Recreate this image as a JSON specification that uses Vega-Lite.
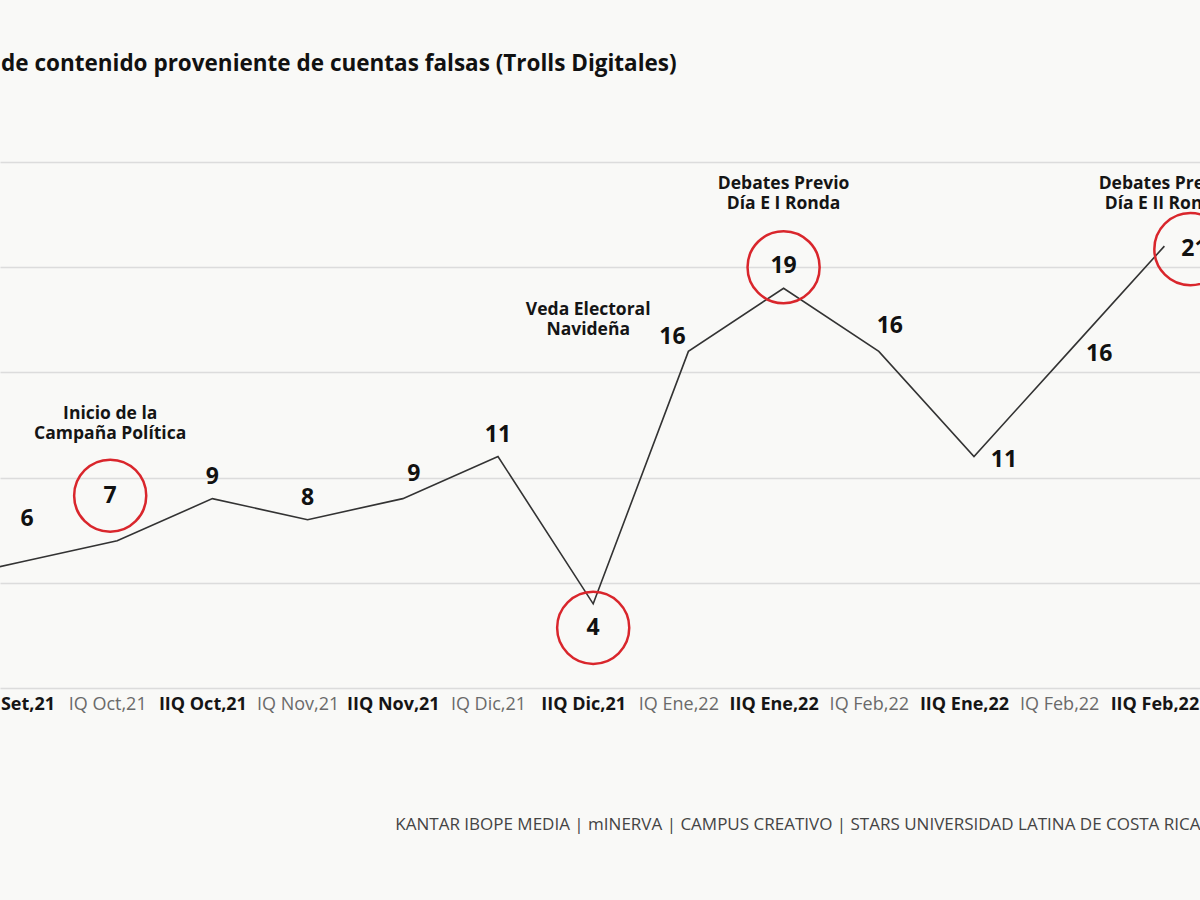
{
  "$schema": "https://vega.github.io/schema/vega-lite/v6.json",
  "width": 1200,
  "height": 526,
  "autosize": {"type": "none"},
  "padding": {"top": 162, "left": 0, "right": 0, "bottom": 212},
  "background": "#f9f9f7",
  "title": {
    "text": "de contenido proveniente de cuentas falsas (Trolls Digitales)",
    "anchor": "start",
    "frame": "group",
    "fontSize": 22.5,
    "font": "Open Sans",
    "fontWeight": "bold",
    "color": "#111111",
    "offset": 87,
    "dx": 1
  },
  "config": {"view": {"stroke": null}, "font": "Open Sans"},
  "datasets": {
    "series": [
      {"i": 0, "periodo": "IQ Set,21", "valor": 5},
      {"i": 1, "periodo": "IIQ Set,21", "valor": 6},
      {"i": 2, "periodo": "IQ Oct,21", "valor": 7},
      {"i": 3, "periodo": "IIQ Oct,21", "valor": 9},
      {"i": 4, "periodo": "IQ Nov,21", "valor": 8},
      {"i": 5, "periodo": "IIQ Nov,21", "valor": 9},
      {"i": 6, "periodo": "IQ Dic,21", "valor": 11},
      {"i": 7, "periodo": "IIQ Dic,21", "valor": 4},
      {"i": 8, "periodo": "IQ Ene,22", "valor": 16},
      {"i": 9, "periodo": "IIQ Ene,22", "valor": 19},
      {"i": 10, "periodo": "IQ Feb,22", "valor": 16},
      {"i": 11, "periodo": "IIQ Ene,22", "valor": 11},
      {"i": 12, "periodo": "IQ Feb,22", "valor": 16},
      {"i": 13, "periodo": "IIQ Feb,22", "valor": 21}
    ],
    "events": [
      {"i": 2, "evento": "Inicio de la\nCampaña Política"},
      {"i": 7, "evento": "Veda Electoral\nNavideña"},
      {"i": 9, "evento": "Debates Previo\nDía E I Ronda"},
      {"i": 13, "evento": "Debates Previo\nDía E II Ronda"}
    ]
  },
  "data": {"name": "series"},
  "encoding": {
    "x": {
      "field": "i",
      "type": "quantitative",
      "scale": {"domain": [0.769, 13.374], "nice": false, "zero": false},
      "axis": {
        "values": [1, 2, 3, 4, 5, 6, 7, 8, 9, 10, 11, 12, 13],
        "labelExpr": "['IQ Set,21','IIQ Set,21','IQ Oct,21','IIQ Oct,21','IQ Nov,21','IIQ Nov,21','IQ Dic,21','IIQ Dic,21','IQ Ene,22','IIQ Ene,22','IQ Feb,22','IIQ Ene,22','IQ Feb,22','IIQ Feb,22'][datum.value]",
        "labelFontSize": 18,
        "labelFontWeight": {"condition": {"test": "datum.value % 2 == 1", "value": "bold"}, "value": "normal"},
        "labelColor": {"condition": {"test": "datum.value % 2 == 1", "value": "#151515"}, "value": "#6a6a6a"},
        "labelOverlap": false,
        "labelFlush": false,
        "labelBound": false,
        "labelOffset": -10,
        "labelPadding": 7,
        "grid": false,
        "ticks": false,
        "domain": false,
        "title": "KANTAR IBOPE MEDIA  |  mINERVA  |  CAMPUS CREATIVO  |  STARS  UNIVERSIDAD LATINA DE COSTA RICA",
        "titleAnchor": "end",
        "titlePadding": 103,
        "titleFontSize": 17,
        "titleFontWeight": "normal",
        "titleColor": "#444444"
      }
    }
  },
  "layer": [
    {
      "mark": {"type": "line", "color": "#333333", "strokeWidth": 1.6, "clip": true},
      "encoding": {
        "y": {
          "field": "valor",
          "type": "quantitative",
          "scale": {"domain": [0, 25], "nice": false},
          "axis": {
            "values": [0, 5, 10, 15, 20, 25],
            "grid": true,
            "gridColor": "#dcdcdc",
            "gridWidth": 1.5,
            "labels": false,
            "ticks": false,
            "domain": false,
            "title": null
          }
        }
      }
    },
    {
      "transform": [{"filter": {"field": "i", "oneOf": [3, 4, 6, 9]}}],
      "mark": {"type": "text", "fontSize": 23, "fontWeight": "bold", "color": "#111111", "dy": -22, "baseline": "middle"},
      "encoding": {"y": {"field": "valor", "type": "quantitative"}, "text": {"field": "valor"}}
    },
    {
      "transform": [{"filter": {"field": "i", "oneOf": [5, 10]}}],
      "mark": {"type": "text", "fontSize": 23, "fontWeight": "bold", "color": "#111111", "dy": -25, "dx": 11, "baseline": "middle"},
      "encoding": {"y": {"field": "valor", "type": "quantitative"}, "text": {"field": "valor"}}
    },
    {
      "transform": [{"filter": {"field": "i", "oneOf": [8]}}],
      "mark": {"type": "text", "fontSize": 23, "fontWeight": "bold", "color": "#111111", "dy": -14, "dx": -16, "baseline": "middle"},
      "encoding": {"y": {"field": "valor", "type": "quantitative"}, "text": {"field": "valor"}}
    },
    {
      "transform": [{"filter": {"field": "i", "oneOf": [7]}}],
      "mark": {"type": "text", "fontSize": 23, "fontWeight": "bold", "color": "#111111", "dy": 24, "baseline": "middle"},
      "encoding": {"y": {"field": "valor", "type": "quantitative"}, "text": {"field": "valor"}}
    },
    {
      "transform": [{"filter": {"field": "i", "oneOf": [1]}}],
      "mark": {"type": "text", "fontSize": 23, "fontWeight": "bold", "color": "#111111", "dy": -43, "dx": 5, "baseline": "middle"},
      "encoding": {"y": {"field": "valor", "type": "quantitative"}, "text": {"field": "valor"}}
    },
    {
      "transform": [{"filter": {"field": "i", "oneOf": [2]}}],
      "mark": {"type": "text", "fontSize": 23, "fontWeight": "bold", "color": "#111111", "dy": -45, "dx": -7, "baseline": "middle"},
      "encoding": {"y": {"field": "valor", "type": "quantitative"}, "text": {"field": "valor"}}
    },
    {
      "transform": [{"filter": {"field": "i", "oneOf": [11, 12, 13]}}],
      "mark": {"type": "text", "fontSize": 23, "fontWeight": "bold", "color": "#111111", "dy": 3, "dx": 30, "baseline": "middle"},
      "encoding": {"y": {"field": "valor", "type": "quantitative"}, "text": {"field": "valor"}}
    },
    {
      "transform": [{"filter": {"field": "i", "oneOf": [9]}}],
      "mark": {"type": "point", "shape": "circle", "size": 5200, "filled": false, "color": "#d9262c", "strokeWidth": 2.5, "opacity": 1, "yOffset": -21},
      "encoding": {"y": {"field": "valor", "type": "quantitative"}}
    },
    {
      "transform": [{"filter": {"field": "i", "oneOf": [7]}}],
      "mark": {"type": "point", "shape": "circle", "size": 5200, "filled": false, "color": "#d9262c", "strokeWidth": 2.5, "opacity": 1, "yOffset": 24},
      "encoding": {"y": {"field": "valor", "type": "quantitative"}}
    },
    {
      "transform": [{"filter": {"field": "i", "oneOf": [2]}}],
      "mark": {"type": "point", "shape": "circle", "size": 5200, "filled": false, "color": "#d9262c", "strokeWidth": 2.5, "opacity": 1, "yOffset": -45, "xOffset": -7},
      "encoding": {"y": {"field": "valor", "type": "quantitative"}}
    },
    {
      "transform": [{"filter": {"field": "i", "oneOf": [13]}}],
      "mark": {"type": "point", "shape": "circle", "size": 5200, "filled": false, "color": "#d9262c", "strokeWidth": 2.5, "opacity": 1, "yOffset": 3, "xOffset": 26},
      "encoding": {"y": {"field": "valor", "type": "quantitative"}}
    },
    {
      "data": {"name": "events"},
      "transform": [{"filter": {"field": "i", "oneOf": [2]}}],
      "mark": {"type": "text", "fontSize": 17.5, "fontWeight": "bold", "color": "#151515", "lineBreak": "\n", "lineHeight": 20, "baseline": "middle", "dx": -7},
      "encoding": {"y": {"datum": 13.0, "type": "quantitative"}, "text": {"field": "evento"}}
    },
    {
      "data": {"name": "events"},
      "transform": [{"filter": {"field": "i", "oneOf": [7]}}],
      "mark": {"type": "text", "fontSize": 17.5, "fontWeight": "bold", "color": "#151515", "lineBreak": "\n", "lineHeight": 20, "baseline": "middle", "dx": -5},
      "encoding": {"y": {"datum": 17.95, "type": "quantitative"}, "text": {"field": "evento"}}
    },
    {
      "data": {"name": "events"},
      "transform": [{"filter": {"field": "i", "oneOf": [9, 13]}}],
      "mark": {"type": "text", "fontSize": 17.5, "fontWeight": "bold", "color": "#151515", "lineBreak": "\n", "lineHeight": 20, "baseline": "middle"},
      "encoding": {"y": {"datum": 23.95, "type": "quantitative"}, "text": {"field": "evento"}}
    }
  ]
}
